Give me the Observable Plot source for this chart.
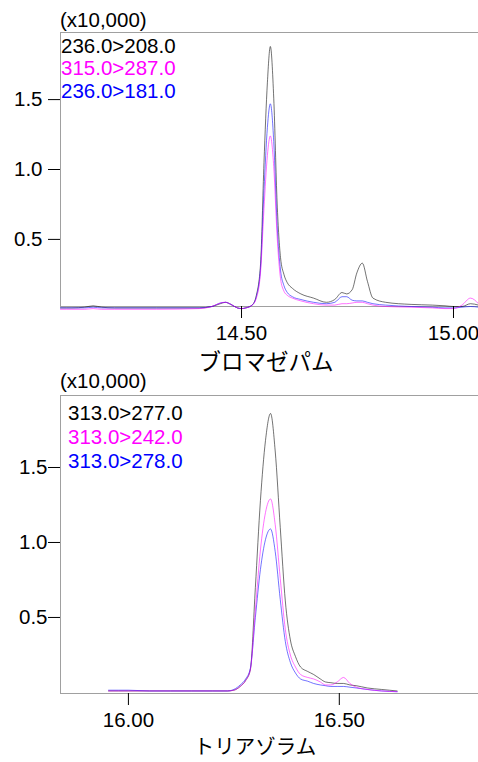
<!DOCTYPE html>
<html>
<head>
<meta charset="utf-8">
<script src="https://cdn.jsdelivr.net/npm/d3@7"></script>
<script src="https://cdn.jsdelivr.net/npm/@observablehq/plot@0.6"></script>
<style>
  html, body { margin: 0; padding: 0; background: #fff; }
  #wrap { position: relative; width: 478px; height: 762px; overflow: hidden; font-family: "Liberation Sans", Arial, sans-serif; }
  .abs { position: absolute; white-space: nowrap; line-height: 1; }
  .t { font-size: 20.5px; }
  .ttl { font-family: "Noto Sans CJK JP", sans-serif; transform: translateX(-50%); }
  svg { display: block; }
</style>
</head>
<body>
<div id="wrap"></div>
<script>
// ---------- DATA ----------
const seriesColors = ["#000000", "#ff00ff", "#0000ff"];
const yTicks = [0.5, 1.0, 1.5];
const scaleLabel = "(x10,000)";

// Top panel: ブロマゼパム
const topTitle = "ブロマゼパム";
const topSeriesNames = ["236.0>208.0", "315.0>287.0", "236.0>181.0"];
const topXTicks = [14.5, 15.0];
const topTime = [14.073, 14.10, 14.13, 14.15, 14.17, 14.20, 14.30, 14.40, 14.43, 14.45, 14.462, 14.475, 14.49, 14.50, 14.51, 14.525, 14.535, 14.545, 14.553, 14.561, 14.568, 14.576, 14.584, 14.592, 14.600, 14.608, 14.62, 14.64, 14.67, 14.70, 14.72, 14.737, 14.748, 14.761, 14.772, 14.785, 14.797, 14.81, 14.84, 14.90, 14.95, 14.98, 15.00, 15.02, 15.04, 15.059];
const topBlack = [0.01, 0.01, 0.015, 0.025, 0.015, 0.01, 0.01, 0.01, 0.02, 0.04, 0.05, 0.035, 0.01, 0.005, 0.01, 0.03, 0.10, 0.33, 1.05, 1.62, 1.88, 1.51, 0.76, 0.37, 0.25, 0.19, 0.15, 0.11, 0.08, 0.05, 0.07, 0.12, 0.11, 0.14, 0.26, 0.33, 0.20, 0.08, 0.05, 0.035, 0.03, 0.025, 0.02, 0.02, 0.04, 0.03];
const topMagenta = [0.0, 0.0, 0.0, 0.005, 0.0, 0.0, 0.0, 0.005, 0.02, 0.045, 0.05, 0.035, 0.01, 0.005, 0.01, 0.03, 0.08, 0.27, 0.72, 1.10, 1.24, 1.02, 0.52, 0.22, 0.13, 0.10, 0.08, 0.06, 0.04, 0.03, 0.03, 0.04, 0.04, 0.045, 0.05, 0.05, 0.04, 0.03, 0.02, 0.015, 0.01, 0.005, 0.005, 0.03, 0.08, 0.04];
const topBlue = [0.01, 0.01, 0.01, 0.015, 0.01, 0.01, 0.01, 0.01, 0.02, 0.045, 0.05, 0.035, 0.01, 0.005, 0.01, 0.03, 0.09, 0.30, 0.85, 1.30, 1.47, 1.20, 0.60, 0.28, 0.17, 0.12, 0.09, 0.07, 0.05, 0.04, 0.05, 0.09, 0.09, 0.065, 0.06, 0.06, 0.05, 0.04, 0.03, 0.02, 0.015, 0.01, 0.01, 0.015, 0.02, 0.015];

// Bottom panel: トリアゾラム
const bottomTitle = "トリアゾラム";
const bottomSeriesNames = ["313.0>277.0", "313.0>242.0", "313.0>278.0"];
const bottomXTicks = [16.0, 16.5];
const bottomTime = [15.953, 16.00, 16.05, 16.10, 16.15, 16.20, 16.235, 16.25, 16.265, 16.278, 16.289, 16.301, 16.313, 16.325, 16.337, 16.348, 16.360, 16.372, 16.384, 16.396, 16.408, 16.425, 16.439, 16.455, 16.467, 16.48, 16.495, 16.51, 16.525, 16.54, 16.566, 16.60, 16.637];
const bottomBlack = [0.01, 0.01, 0.01, 0.01, 0.01, 0.01, 0.01, 0.015, 0.04, 0.08, 0.15, 0.70, 1.28, 1.68, 1.86, 1.61, 1.10, 0.61, 0.35, 0.24, 0.17, 0.14, 0.12, 0.09, 0.07, 0.065, 0.06, 0.06, 0.05, 0.045, 0.03, 0.02, 0.01];
const bottomMagenta = [0.01, 0.01, 0.01, 0.01, 0.01, 0.01, 0.01, 0.015, 0.04, 0.08, 0.15, 0.55, 0.95, 1.20, 1.29, 1.12, 0.76, 0.42, 0.25, 0.17, 0.12, 0.10, 0.09, 0.07, 0.05, 0.05, 0.07, 0.10, 0.06, 0.035, 0.02, 0.01, 0.005];
const bottomBlue = [0.015, 0.015, 0.01, 0.01, 0.01, 0.01, 0.01, 0.02, 0.05, 0.09, 0.16, 0.50, 0.82, 1.02, 1.09, 0.94, 0.62, 0.34, 0.20, 0.13, 0.09, 0.075, 0.06, 0.05, 0.045, 0.04, 0.04, 0.04, 0.035, 0.03, 0.02, 0.01, 0.005];

// ---------- CHART ----------
function panel(o) {
  const frameColor = "#a0a0a0";
  const lineOrder = [0, 2, 1];
  return Plot.plot({
    width: 478, height: o.height,
    marginTop: o.marginTop, marginBottom: o.marginBottom, marginLeft: 60, marginRight: 0,
    x: {domain: o.xDomain},
    y: {domain: o.yDomain},
    style: {fontFamily: "'Liberation Sans', Arial, sans-serif", fontSize: "20.5px", color: "#000", background: "transparent", overflow: "visible"},
    marks: [
      Plot.ruleY([o.yDomain[1]], {stroke: frameColor}),
      Plot.ruleY([o.yDomain[0]], {stroke: frameColor}),
      Plot.ruleX([o.xDomain[0]], {stroke: frameColor}),
      ...lineOrder.map(k => Plot.line(o.time.map((t, i) => ({t, v: o.series[k][i]})), {
        x: "t", y: "v", stroke: seriesColors[k], strokeWidth: 1, strokeOpacity: 0.55, curve: "monotone-x"
      })),
      Plot.axisX({ticks: o.xTicks, tickFormat: d3.format(".2f"), tickSize: 12, tickPadding: 7, label: null}),
      Plot.axisY({ticks: yTicks, tickFormat: d3.format(".1f"), tickSize: 12, tickPadding: o.yPad, label: null})
    ]
  });
}

const wrap = document.getElementById("wrap");
function place(el, top) {
  const d = document.createElement("div");
  d.style.position = "absolute"; d.style.left = "0px"; d.style.top = top + "px";
  d.appendChild(el); wrap.appendChild(d);
}
function text(str, left, top, cls, color, size) {
  const d = document.createElement("div");
  d.className = "abs " + cls;
  d.style.left = left + "px"; d.style.top = top + "px";
  if (color) d.style.color = color;
  if (size) d.style.fontSize = size + "px";
  d.textContent = str;
  wrap.appendChild(d);
}

place(panel({
  time: topTime, series: [topBlack, topMagenta, topBlue],
  xDomain: [14.073, 15.059], yDomain: [0.02, 1.98],
  height: 372, marginTop: 32, marginBottom: 66, xTicks: topXTicks, yPad: 6
}), 0);

place(panel({
  time: bottomTime, series: [bottomBlack, bottomMagenta, bottomBlue],
  xDomain: [15.839, 16.83], yDomain: [-0.007, 1.98],
  height: 390, marginTop: 23, marginBottom: 69, xTicks: bottomXTicks, yPad: 1
}), 372);

text(scaleLabel, 60, 9.6, "t");
topSeriesNames.forEach((s, i) => text(s, 61, 35.6 + i * 22.5, "t", seriesColors[i]));
text(topTitle, 266, 349, "ttl", null, 22.5);

text(scaleLabel, 60, 370.6, "t");
bottomSeriesNames.forEach((s, i) => text(s, 68, 402.6 + i * 24, "t", seriesColors[i]));
text(bottomTitle, 255, 735, "ttl", null, 20.5);
</script>
</body>
</html>
